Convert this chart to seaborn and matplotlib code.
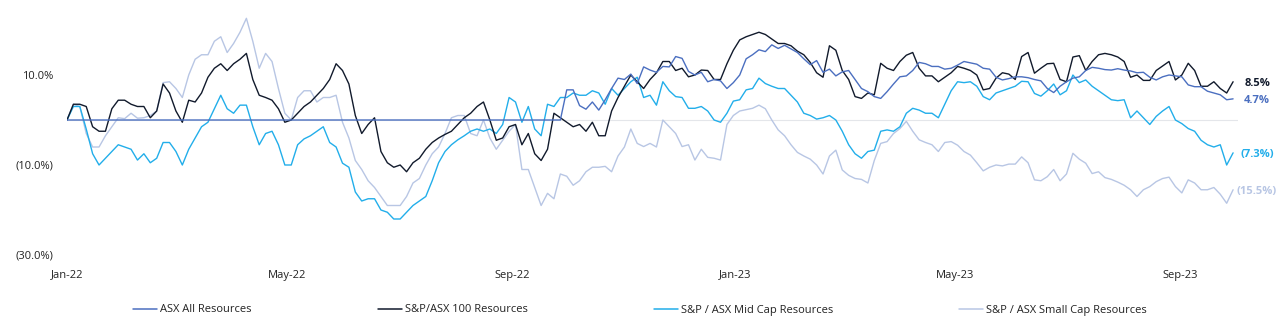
import numpy as np
import pandas as pd
import matplotlib
matplotlib.use("Agg")
import matplotlib.pyplot as plt
import seaborn as sns

# ---------------- data (half-weekly readings, % return since Jan-22) ----------------
start_date = "2022-01-01"
step = "84h"

asx_all_resources = [
    0.0, 0.0, 0.0, 0.0, 0.0, 0.0, 0.0, 0.0, 0.0, 0.0, 0.0, 0.0, 0.0, 0.0, 0.0,
    0.0, 0.0, 0.0, 0.0, 0.0, 0.0, 0.0, 0.0, 0.0, 0.0, 0.0, 0.0, 0.0, 0.0, 0.0,
    0.0, 0.0, 0.0, 0.0, 0.0, 0.0, 0.0, 0.0, 0.0, 0.0, 0.0, 0.0, 0.0, 0.0, 0.0, 0.0,
    0.0, 0.0, 0.0, 0.0, 0.0, 0.0, 0.0, 0.0, 0.0, 0.0, 0.0, 0.0, 0.0, 0.0, 0.0, 0.0,
    0.0, 0.0, 0.0, 0.0, 0.0, 0.0, 0.0, 0.0, 0.0, 0.0, 0.0, 0.0, 0.0, 0.0, 0.0, 0.0,
    6.7, 6.7, 3.2, 2.4, 4.0, 2.2, 4.5, 7.0, 9.3, 9.0, 10.2, 8.1, 11.8, 11.1,
    10.6, 11.9, 11.8, 14.1, 13.7, 10.8, 10.0, 10.6, 8.5, 9.0, 8.7, 7.0, 8.3, 10.0, 13.6,
    14.5, 15.6, 15.2, 16.7, 15.9, 16.6, 15.8, 15.0, 13.6, 12.3, 13.2, 10.6, 11.3, 9.8, 10.7,
    11.0, 9.0, 7.0, 6.3, 5.2, 4.8, 6.3, 8.0, 9.6, 9.8, 11.0, 12.8, 12.5, 11.9, 11.9,
    11.3, 11.5, 12.2, 13.0, 12.7, 12.4, 11.5, 11.3, 9.5, 8.9, 9.2, 9.6, 9.6, 9.4, 9.0,
    8.7, 7.0, 6.1, 7.5, 8.5, 9.3, 9.6, 11.0, 11.7, 11.5, 11.2, 11.1, 11.4, 11.1, 10.9,
    10.5, 10.6, 9.5, 8.9, 9.6, 10.0, 9.8, 9.6, 7.8, 7.4, 7.4, 6.4, 6.0, 5.6, 4.5, 4.7,
]
sp_asx100_resources = [
    0.0, 3.5, 3.5, 3.0, -1.5, -2.5, -2.5, 2.5, 4.4, 4.4, 3.5, 3.0, 3.0, 0.5, 2.0,
    8.0, 6.0, 2.0, -0.5, 4.4, 4.0, 6.0, 9.5, 11.5, 12.5, 11.0, 12.5, 13.5, 14.8, 9.0,
    5.5, 5.0, 4.4, 2.5, -0.5, 0.0, 1.5, 3.0, 4.0, 5.5, 7.0, 9.0, 12.5, 11.0, 8.0, 1.0,
    -3.0, -1.0, 0.5, -7.0, -9.5, -10.5, -10.0, -11.5, -9.5, -8.5, -6.5, -5.0, -4.0, -3.2, -2.5, -1.0,
    0.5, 1.5, 3.0, 4.0, 0.0, -4.5, -4.0, -1.5, -1.0, -5.5, -3.0, -7.5, -9.0, -6.5, 1.5,
    0.5, -0.5, -1.5, -1.0, -2.5, -0.5, -3.5, -3.5, 2.0, 5.0, 7.5, 10.0, 8.5, 7.0, 9.0,
    10.5, 13.0, 13.0, 11.0, 11.5, 9.6, 10.0, 11.1, 11.0, 9.0, 9.0, 12.5, 15.5, 17.8, 18.5,
    19.0, 19.5, 19.0, 18.0, 17.0, 17.0, 16.5, 15.3, 14.5, 12.8, 10.5, 9.5, 16.5, 15.5, 11.0,
    9.0, 5.2, 4.8, 6.0, 5.6, 12.6, 11.5, 11.0, 13.0, 14.4, 15.0, 11.5, 9.8, 9.8, 8.5,
    9.5, 10.5, 11.9, 11.5, 11.0, 10.0, 6.7, 7.0, 9.3, 10.5, 10.2, 9.0, 14.1, 15.0, 10.4,
    11.5, 12.5, 12.6, 9.0, 8.5, 14.0, 14.3, 11.0, 13.0, 14.5, 14.8, 14.5, 14.0, 13.0, 9.5,
    10.0, 8.8, 8.8, 11.0, 12.0, 13.0, 8.9, 10.0, 12.6, 11.0, 7.5, 7.5, 8.5, 7.0, 6.0, 8.5,
]
sp_asx_midcap_resources = [
    0.0, 3.0, 3.0, -2.0, -7.5, -10.0, -8.5, -7.0, -5.5, -6.0, -6.5, -8.9, -7.5, -9.5, -8.5,
    -5.0, -5.0, -7.0, -10.0, -6.5, -4.0, -1.5, -0.5, 2.5, 5.5, 2.5, 1.5, 3.3, 3.3, -1.5,
    -5.5, -3.0, -2.5, -5.5, -10.0, -10.0, -5.5, -4.2, -3.5, -2.5, -1.5, -5.0, -6.0, -9.6, -10.5, -16.0,
    -18.0, -17.5, -17.5, -20.0, -20.5, -22.0, -22.0, -20.5, -19.0, -18.0, -17.0, -13.5, -9.5, -7.0, -5.5, -4.4,
    -3.5, -2.5, -2.0, -2.5, -2.0, -3.0, -1.0, 5.0, 4.0, -0.5, 3.0, -2.0, -3.5, 3.5, 3.0,
    5.0, 5.0, 6.0, 5.5, 5.5, 6.5, 6.0, 3.5, 7.0, 5.5, 7.0, 8.5, 9.5, 5.0, 5.5,
    3.3, 8.5, 6.5, 5.2, 5.0, 2.6, 2.6, 3.0, 2.0, 0.0, -0.5, 1.5, 4.2, 4.5, 6.7,
    7.0, 9.3, 8.1, 7.5, 7.0, 7.0, 5.5, 4.0, 1.5, 1.0, 0.2, 0.5, 1.0, 0.0, -2.5,
    -5.5, -7.5, -8.5, -7.0, -6.7, -2.5, -2.2, -2.5, -1.5, 1.5, 2.6, 2.2, 1.5, 1.5, 0.5,
    3.5, 6.5, 8.5, 8.3, 8.5, 7.5, 5.2, 4.5, 6.0, 6.5, 7.0, 7.5, 8.6, 8.5, 5.9,
    5.3, 6.5, 8.0, 5.6, 6.5, 10.0, 8.3, 8.9, 7.5, 6.5, 5.5, 4.5, 4.3, 4.5, 0.5,
    2.0, 0.5, -1.0, 0.8, 2.0, 3.0, 0.0, -0.8, -1.9, -2.5, -4.5, -5.5, -6.0, -5.5, -10.0, -7.3,
]
sp_asx_smallcap_resources = [
    0.0, 3.5, 3.0, -3.0, -6.0, -6.0, -3.5, -1.5, 0.5, 0.3, 1.5, 0.4, 0.5, 1.0, 2.0,
    8.3, 8.5, 7.0, 5.0, 10.0, 13.5, 14.5, 14.5, 17.5, 18.5, 15.0, 17.0, 19.5, 22.6, 17.5,
    11.5, 14.8, 13.0, 7.0, 1.5, 0.0, 5.0, 6.5, 6.5, 4.0, 5.0, 5.0, 5.5, -0.5, -4.0, -9.0,
    -11.0, -13.5, -15.0, -17.0, -19.0, -19.0, -19.0, -17.0, -14.0, -13.0, -10.0, -7.5, -6.0, -3.0, 0.5, 1.0,
    1.0, -3.0, -3.5, 0.0, -4.0, -6.5, -4.5, -2.5, -1.0, -11.0, -11.0, -15.0, -19.0, -16.3, -17.5,
    -12.0, -12.5, -14.5, -13.5, -11.5, -10.5, -10.5, -10.3, -11.5, -8.0, -6.0, -2.0, -5.2, -5.9, -5.2,
    -6.0, 0.0, -1.5, -3.0, -5.9, -5.5, -8.9, -6.5, -8.3, -8.5, -8.9, -1.0, 1.0, 2.0, 2.3,
    2.6, 3.3, 2.5, 0.0, -2.2, -3.5, -5.5, -7.2, -8.0, -8.7, -10.0, -12.0, -8.0, -6.7, -11.1,
    -12.3, -13.0, -13.2, -14.0, -9.0, -5.2, -4.8, -3.0, -1.9, -0.3, -2.5, -4.4, -5.0, -5.5, -7.0,
    -5.0, -4.8, -5.6, -7.0, -7.8, -9.5, -11.3, -10.5, -10.0, -10.2, -9.8, -9.8, -8.2, -9.5, -13.3,
    -13.5, -12.6, -11.0, -13.5, -12.0, -7.4, -8.7, -9.6, -11.9, -11.5, -12.8, -13.2, -13.8, -14.5, -15.5,
    -17.0, -15.5, -14.8, -13.7, -13.0, -12.7, -14.8, -16.2, -13.3, -14.0, -15.5, -15.5, -15.0, -16.5, -18.5, -15.5,
]

series_names = [
    "ASX All Resources",
    "S&P/ASX 100 Resources",
    "S&P / ASX Mid Cap Resources",
    "S&P / ASX Small Cap Resources",
]
series_colors = ["#4b6fc0", "#111a2c", "#22aeea", "#b8c6e4"]

tick_dates = ["2022-01-01", "2022-05-01", "2022-09-01", "2023-01-01", "2023-05-01", "2023-09-01"]
tick_labels = ["Jan-22", "May-22", "Sep-22", "Jan-23", "May-23", "Sep-23"]
ytick_values = [-30, -10, 10]
ytick_labels = ["(30.0%)", "(10.0%)", "10.0%"]

# ---------------- build long-form table ----------------
all_values = [asx_all_resources, sp_asx100_resources, sp_asx_midcap_resources, sp_asx_smallcap_resources]
n = min(len(v) for v in all_values)
dates = pd.date_range(start_date, periods=n, freq=step)
frames = []
for name, vals in zip(series_names, all_values):
    frames.append(pd.DataFrame({"date": dates, "value": vals[:n], "series": name}))
df = pd.concat(frames, ignore_index=True)

# ---------------- style ----------------
sns.set_theme(style="white")
plt.rcParams["font.family"] = ["Open Sans", "DejaVu Sans"]
text_color = "#222222"

W, H = 1280, 326
fig = plt.figure(figsize=(W / 100, H / 100), dpi=100)
fig.patch.set_facecolor("white")
ax_left, ax_right, ax_top, ax_bottom = 67, 1238, 12, 264
ax = fig.add_axes([ax_left / W, 1 - ax_bottom / H, (ax_right - ax_left) / W, (ax_bottom - ax_top) / H])
ax.set_facecolor("white")

palette = dict(zip(series_names, series_colors))
draw_order = [series_names[3], series_names[2], series_names[1], series_names[0]]

# zero reference line
ax.axhline(0, color="#e4e6ea", lw=0.8, zorder=0)

sns.lineplot(data=df, x="date", y="value", hue="series", hue_order=draw_order,
             palette=palette, linewidth=1.0, ax=ax, legend=True)

# axes limits
px_per_day = 1113 / 608.0
x0 = pd.Timestamp(start_date)
x1 = x0 + pd.Timedelta(days=(ax_right - ax_left) / px_per_day)
ax.set_xlim(x0, x1)
ax.set_ylim(-32, 24)

ax.set_xticks(pd.to_datetime(tick_dates))
ax.set_xticklabels(tick_labels)
ax.set_yticks(ytick_values)
ax.set_yticklabels(ytick_labels)
ax.tick_params(axis="both", length=0, labelsize=8, labelcolor=text_color)
ax.tick_params(axis="x", pad=4)
ax.tick_params(axis="y", pad=10)
ax.set_xlabel("")
ax.set_ylabel("")
for s in ax.spines.values():
    s.set_visible(False)
ax.grid(False)

# end labels
for name, vals, col in zip(series_names, all_values, series_colors):
    v = vals[n - 1]
    lab = f"{v:.1f}%" if v >= 0 else f"({-v:.1f}%)"
    ax.annotate(lab, xy=(dates[-1], v), xytext=(24, -2), textcoords="offset pixels",
                ha="center", va="center", fontsize=8, fontweight="bold", color=col,
                annotation_clip=False)

# legend
handles, labels = ax.get_legend_handles_labels()
hmap = dict(zip(labels, handles))
ax.get_legend().remove()
fs_px = 8 * 100 / 72
leg = fig.legend([hmap[nm] for nm in series_names], series_names, loc="center",
                 bbox_to_anchor=(0.5, 1 - 310 / H), ncol=4, frameon=False,
                 fontsize=8, handlelength=24 / fs_px, handletextpad=3 / fs_px,
                 columnspacing=126 / fs_px, borderaxespad=0, borderpad=0)
for t in leg.get_texts():
    t.set_color(text_color)
for l in leg.get_lines():
    l.set_linewidth(1.1)

fig.savefig("out.png", dpi=100, facecolor="white")
